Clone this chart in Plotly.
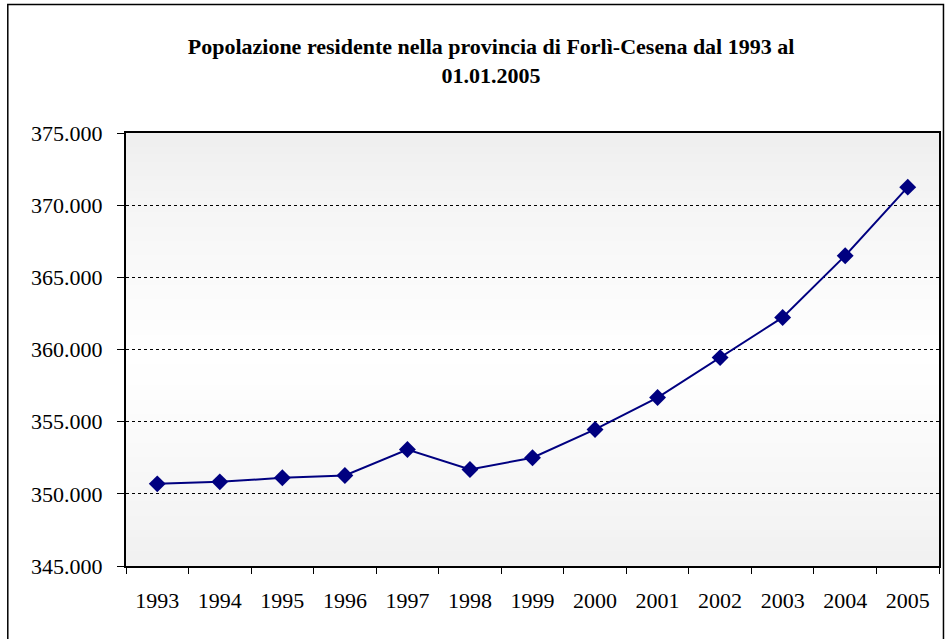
import plotly.graph_objects as go

anni = ['1993', '1994', '1995', '1996', '1997', '1998', '1999',
        '2000', '2001', '2002', '2003', '2004', '2005']
popolazione = [350690, 350830, 351110, 351270, 353070, 351690, 352500,
               354460, 356670, 359440, 362220, 366500, 371250]
y_ticks = [345000, 350000, 355000, 360000, 365000, 370000, 375000]

titolo = "Popolazione residente nella provincia di Forlì-Cesena dal 1993 al<br>01.01.2005"
serif = "Liberation Serif, Times New Roman, serif"

fig = go.Figure()
fig.add_trace(go.Scatter(
    x=anni, y=popolazione, mode='lines+markers',
    line=dict(color='#000080', width=2),
    marker=dict(symbol='diamond', size=13, color='#000080'),
    showlegend=False, hoverinfo='x+y'))

# grey-white-grey vertical gradient behind the plot
n = 60
shapes = []
for i in range(n):
    t = (i + 0.5) / n
    k = max(0.0, 1 - abs(t - 0.48) / 0.52)
    c = min(255, int(round(238 + 17 * k ** 0.8)))
    shapes.append(dict(type='rect', xref='x domain', yref='y domain',
                       x0=0, x1=1, y0=i / n, y1=(i + 1) / n + 0.002,
                       fillcolor=f'rgb({c},{c},{c})', line=dict(width=0), layer='below'))

# outer chart frame
shapes.append(dict(type='rect', xref='paper', yref='paper',
                   x0=-0.1454, x1=1.0055, y0=-0.3, y1=1.297,
                   line=dict(color='black', width=1.5), fillcolor='rgba(0,0,0,0)', layer='above'))

fig.update_layout(
    width=949, height=639,
    margin=dict(l=126, r=8, t=133, b=73),
    paper_bgcolor='white', plot_bgcolor='rgba(0,0,0,0)',
    separators=',.',
    font=dict(family=serif, size=22, color='black'),
    title=dict(text=titolo, x=0.449, xref='paper', xanchor='center',
               y=0.915, yref='container', yanchor='top',
               font=dict(family=serif, size=22, color='black', weight='bold')),
    shapes=shapes,
)
fig.update_xaxes(type='category', range=[-0.5, 12.5], tickson='boundaries',
                 ticks='outside', ticklen=6, tickcolor='black', tickwidth=1,
                 showline=True, linecolor='black', linewidth=2, mirror=True,
                 showgrid=False, ticklabelstandoff=14,
                 tickfont=dict(family=serif, size=22))
fig.update_yaxes(range=[345000, 375000], tickvals=y_ticks, tickformat=',d',
                 ticks='outside', ticklen=7, tickcolor='black', tickwidth=1,
                 showline=True, linecolor='black', linewidth=2, mirror=True,
                 showgrid=True, gridcolor='black', gridwidth=1, griddash='dot',
                 zeroline=False, ticklabelstandoff=10,
                 tickfont=dict(family=serif, size=22))

fig.write_html("out.html", config={'displayModeBar': False},
               post_script="document.body.style.margin='0';")
